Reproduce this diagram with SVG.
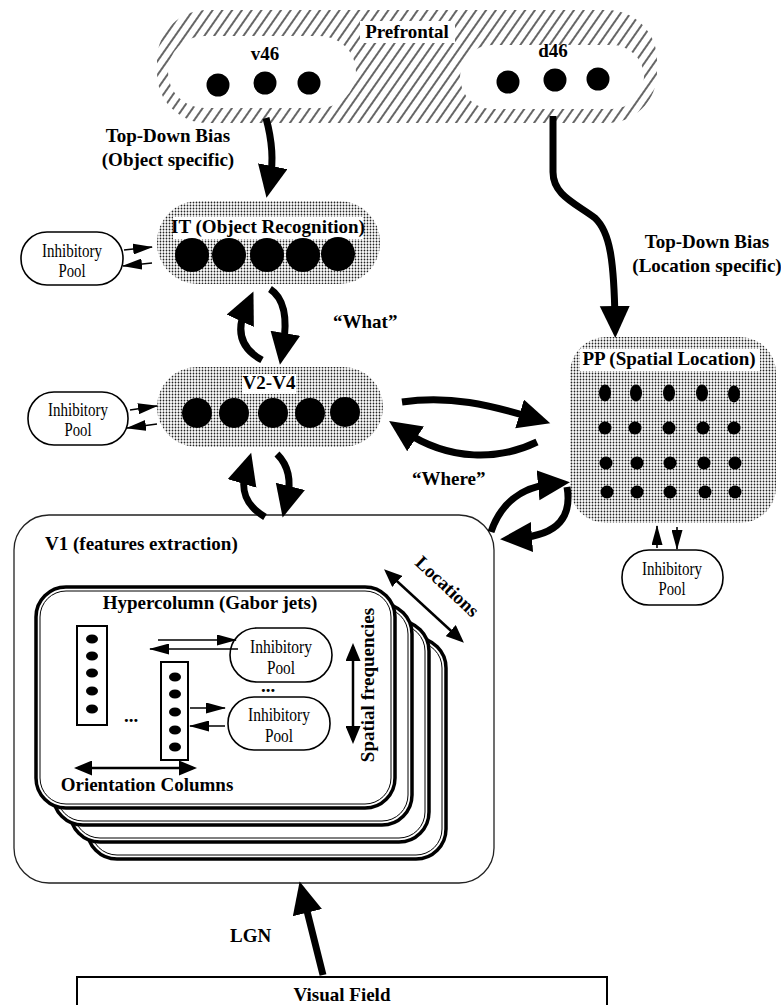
<svg xmlns="http://www.w3.org/2000/svg" width="781" height="1005" viewBox="0 0 781 1005">
<defs>
  <pattern id="stip" width="3" height="3" patternUnits="userSpaceOnUse">
    <rect width="3" height="3" fill="#fff"/>
    <circle cx="1.5" cy="1.5" r="0.9" fill="#222"/>
  </pattern>
  <pattern id="hatch" width="8" height="8" patternUnits="userSpaceOnUse" patternTransform="rotate(35)">
    <rect width="8" height="8" fill="#fff"/>
    <line x1="4" y1="0" x2="4" y2="8" stroke="#000" stroke-width="1.2"/>
  </pattern>
  <marker id="big" markerUnits="userSpaceOnUse" viewBox="0 0 34 32" markerWidth="34" markerHeight="32" refX="14" refY="15" orient="auto">
    <path d="M0,0 L32,15 L0,30 Z" fill="#000"/>
  </marker>
  <marker id="sm" markerUnits="userSpaceOnUse" viewBox="0 0 20 11" markerWidth="20" markerHeight="11" refX="19" refY="5.5" orient="auto">
    <path d="M0,0 L20,5.5 L0,11 Z" fill="#000"/>
  </marker>
  <marker id="md" markerUnits="userSpaceOnUse" viewBox="0 0 18 15" markerWidth="18" markerHeight="15" refX="14" refY="7.5" orient="auto-start-reverse">
    <path d="M0,0 L18,7.5 L0,15 Z" fill="#000"/>
  </marker>
</defs>
<style>
.lbl{font-family:"Liberation Serif","Times New Roman",serif;font-weight:bold;font-size:19px;fill:#000}
.pool{font-family:"Liberation Serif","Times New Roman",serif;font-size:19px;fill:#000}
.poolbox{fill:#fff;stroke:#000;stroke-width:1.6}
.stip{fill:url(#stip)}
.dot{fill:#000}
.thick{fill:none;stroke:#000;stroke-width:7;marker-end:url(#big)}
.thin{fill:none;stroke:#000;stroke-width:1.6;marker-end:url(#sm)}
.dbl{fill:none;stroke:#000;stroke-width:2.5;marker-start:url(#md);marker-end:url(#md)}
.card{fill:#fff;stroke:#000;stroke-width:3.5}
.cardin{fill:none;stroke:#000;stroke-width:1}
.col{fill:#fff;stroke:#000;stroke-width:2}
</style>

<g id="prefrontal">
  <rect x="157" y="10" width="500" height="113" rx="50" fill="url(#hatch)"/>
  <rect x="360" y="21" width="95" height="22" fill="#fff"/>
  <text class="lbl" x="407" y="38" text-anchor="middle">Prefrontal</text>
  <g id="v46">
    <rect x="168" y="36" width="188" height="72" rx="36" fill="#fff"/>
    <text class="lbl" x="265" y="60" text-anchor="middle">v46</text>
    <circle class="dot" cx="218" cy="85" r="11.5"/>
    <circle class="dot" cx="265" cy="83" r="11.5"/>
    <circle class="dot" cx="309" cy="83" r="11.5"/>
  </g>
  <g id="d46">
    <rect x="460" y="45" width="184" height="64" rx="32" fill="#fff"/>
    <text class="lbl" x="553" y="57" text-anchor="middle">d46</text>
    <circle class="dot" cx="508" cy="82" r="11.5"/>
    <circle class="dot" cx="555" cy="80" r="11.5"/>
    <circle class="dot" cx="598" cy="79" r="11.5"/>
  </g>
</g>

<g id="it">
  <rect class="stip" x="157" y="201" width="223" height="83" rx="41"/>
  <rect x="173" y="217" width="190" height="22" fill="#fff"/>
  <text class="lbl" x="268" y="233" text-anchor="middle">IT (Object Recognition)</text>
  <circle class="dot" cx="192" cy="255" r="17"/>
  <circle class="dot" cx="229" cy="255" r="17"/>
  <circle class="dot" cx="267" cy="255" r="17"/>
  <circle class="dot" cx="303" cy="255" r="17"/>
  <circle class="dot" cx="338" cy="254" r="17"/>
</g>

<g id="it-pool">
  <rect class="poolbox" x="21" y="232" width="102" height="53" rx="26"/>
  <text class="pool" x="72" y="257" text-anchor="middle" textLength="60" lengthAdjust="spacingAndGlyphs">Inhibitory</text>
  <text class="pool" x="72" y="277" text-anchor="middle" textLength="27" lengthAdjust="spacingAndGlyphs">Pool</text>
</g>

<g id="v2v4">
  <rect class="stip" x="157" y="367" width="226" height="80" rx="40"/>
  <rect x="242" y="374" width="54" height="20" fill="#fff"/>
  <text class="lbl" x="269" y="389" text-anchor="middle">V2-V4</text>
  <circle class="dot" cx="197" cy="413" r="15"/>
  <circle class="dot" cx="234" cy="413" r="15"/>
  <circle class="dot" cx="273" cy="413" r="15"/>
  <circle class="dot" cx="310" cy="413" r="15"/>
  <circle class="dot" cx="345" cy="412" r="15"/>
</g>

<g id="v2-pool">
  <rect class="poolbox" x="28" y="392" width="100" height="53" rx="26"/>
  <text class="pool" x="78" y="416" text-anchor="middle" textLength="60" lengthAdjust="spacingAndGlyphs">Inhibitory</text>
  <text class="pool" x="78" y="436" text-anchor="middle" textLength="27" lengthAdjust="spacingAndGlyphs">Pool</text>
</g>

<g id="pp">
  <rect class="stip" x="570" y="337" width="206" height="186" rx="36"/>
  <rect x="580" y="349" width="180" height="22" fill="#fff"/>
  <text class="lbl" x="669" y="365" text-anchor="middle">PP (Spatial Location)</text>
  <ellipse class="dot" cx="605" cy="393" rx="6" ry="8.5"/>
  <ellipse class="dot" cx="636" cy="393" rx="6" ry="8.5"/>
  <ellipse class="dot" cx="669" cy="393" rx="6" ry="8.5"/>
  <ellipse class="dot" cx="702" cy="393" rx="6" ry="8.5"/>
  <ellipse class="dot" cx="734" cy="394" rx="6" ry="8.5"/>
  <circle class="dot" cx="605" cy="428" r="6.5"/>
  <circle class="dot" cx="635" cy="428" r="6.5"/>
  <circle class="dot" cx="669" cy="428" r="6.5"/>
  <circle class="dot" cx="703" cy="428" r="6.5"/>
  <circle class="dot" cx="734" cy="428" r="6.5"/>
  <circle class="dot" cx="606" cy="463" r="6.5"/>
  <circle class="dot" cx="637" cy="463" r="6.5"/>
  <circle class="dot" cx="670" cy="463" r="6.5"/>
  <circle class="dot" cx="704" cy="463" r="6.5"/>
  <circle class="dot" cx="735" cy="463" r="6.5"/>
  <circle class="dot" cx="607" cy="492" r="6.5"/>
  <circle class="dot" cx="637" cy="492" r="6.5"/>
  <circle class="dot" cx="670" cy="492" r="6.5"/>
  <circle class="dot" cx="705" cy="492" r="6.5"/>
  <circle class="dot" cx="735" cy="492" r="6.5"/>
</g>

<g id="pp-pool">
  <rect class="poolbox" x="622" y="550" width="101" height="55" rx="27"/>
  <text class="pool" x="672" y="575" text-anchor="middle" textLength="60" lengthAdjust="spacingAndGlyphs">Inhibitory</text>
  <text class="pool" x="672" y="595" text-anchor="middle" textLength="27" lengthAdjust="spacingAndGlyphs">Pool</text>
</g>

<g id="v1">
  <rect x="14" y="515" width="480" height="368" rx="35" fill="#fff" stroke="#222" stroke-width="1.3"/>
  <text class="lbl" x="45" y="550">V1 (features extraction)</text>
</g>

<g id="hypercolumn">
  <rect class="card" x="87" y="638" width="359" height="221" rx="30"/>
  <rect class="cardin" x="91" y="642" width="351" height="213" rx="26"/>
  <rect class="card" x="70" y="621" width="359" height="221" rx="30"/>
  <rect class="cardin" x="74" y="625" width="351" height="213" rx="26"/>
  <rect class="card" x="53" y="604" width="359" height="221" rx="30"/>
  <rect class="cardin" x="57" y="608" width="351" height="213" rx="26"/>
  <rect class="card" x="36" y="587" width="359" height="221" rx="30"/>
  <rect class="cardin" x="40" y="591" width="351" height="213" rx="26"/>
  <text class="lbl" x="210" y="609" text-anchor="middle">Hypercolumn (Gabor jets)</text>
  <g id="col1">
    <rect class="col" x="77" y="626" width="30" height="99"/>
    <ellipse class="dot" cx="92" cy="639" rx="6" ry="4.5"/>
    <ellipse class="dot" cx="92" cy="656" rx="6" ry="4.5"/>
    <ellipse class="dot" cx="92" cy="673" rx="6" ry="4.5"/>
    <ellipse class="dot" cx="92" cy="691" rx="6" ry="4.5"/>
    <ellipse class="dot" cx="92" cy="709" rx="6" ry="4.5"/>
  </g>
  <text class="lbl" x="131" y="722" text-anchor="middle" font-size="14">...</text>
  <g id="col2">
    <rect class="col" x="161" y="662" width="27" height="98"/>
    <ellipse class="dot" cx="175" cy="677" rx="6" ry="4.5"/>
    <ellipse class="dot" cx="175" cy="694" rx="6" ry="4.5"/>
    <ellipse class="dot" cx="175" cy="712" rx="6" ry="4.5"/>
    <ellipse class="dot" cx="175" cy="730" rx="6" ry="4.5"/>
    <ellipse class="dot" cx="175" cy="747" rx="6" ry="4.5"/>
  </g>
  <g id="hc-pool1">
    <rect class="poolbox" x="230" y="628" width="102" height="54" rx="27"/>
    <text class="pool" x="281" y="653" text-anchor="middle" textLength="62" lengthAdjust="spacingAndGlyphs">Inhibitory</text>
    <text class="pool" x="281" y="674" text-anchor="middle" textLength="28" lengthAdjust="spacingAndGlyphs">Pool</text>
  </g>
  <text class="lbl" x="268" y="692" text-anchor="middle" font-size="13">...</text>
  <g id="hc-pool2">
    <rect class="poolbox" x="228" y="697" width="102" height="53" rx="26"/>
    <text class="pool" x="279" y="721" text-anchor="middle" textLength="62" lengthAdjust="spacingAndGlyphs">Inhibitory</text>
    <text class="pool" x="279" y="742" text-anchor="middle" textLength="28" lengthAdjust="spacingAndGlyphs">Pool</text>
  </g>
  <text class="lbl" x="147" y="791" text-anchor="middle">Orientation Columns</text>
  <text class="lbl" transform="translate(374,685) rotate(-90)" text-anchor="middle">Spatial frequencies</text>
</g>

<g id="visual-field">
  <rect x="77" y="977" width="530" height="40" fill="#fff" stroke="#000" stroke-width="2"/>
  <text class="lbl" x="342" y="1001" text-anchor="middle">Visual Field</text>
</g>

<g id="labels">
  <text class="lbl" x="168" y="142" text-anchor="middle">Top-Down Bias</text>
  <text class="lbl" x="168" y="166" text-anchor="middle">(Object specific)</text>
  <text class="lbl" x="707" y="248" text-anchor="middle">Top-Down Bias</text>
  <text class="lbl" x="707" y="272" text-anchor="middle">(Location specific)</text>
  <text class="lbl" x="333" y="328">“What”</text>
  <text class="lbl" x="412" y="485">“Where”</text>
  <text class="lbl" x="230" y="942">LGN</text>
  <text class="lbl" transform="translate(443,591) rotate(43)" text-anchor="middle">Locations</text>
</g>

<g id="connectors">
  <path class="thick" d="M266,118 C272,140 274,160 270,180"/>
  <path class="thick" d="M553,116 L553,172 C553,195 575,203 595,218 C610,232 614,260 615,320"/>
  <path class="thick" d="M262,360 C240,348 236,330 246,308"/>
  <path class="thick" d="M270,289 C284,298 288,318 283,347"/>
  <path class="thick" d="M265,517 C245,505 240,490 246,470"/>
  <path class="thick" d="M277,454 C288,465 292,480 287,500"/>
  <path class="thick" d="M402,402 C450,395 490,405 533,418"/>
  <path class="thick" d="M537,442 C500,460 450,462 404,431"/>
  <path class="thick" d="M491,532 C500,505 520,487 552,484"/>
  <path class="thick" d="M567,487 C572,515 560,535 518,538"/>
  <path class="thick" d="M323,975 L304,899"/>
  <path class="thin" d="M124,250 L152,247"/>
  <path class="thin" d="M152,263 L123,266"/>
  <path class="thin" d="M130,410 L157,406"/>
  <path class="thin" d="M157,424 L127,428"/>
  <path class="thin" d="M657,548 L657,526"/>
  <path class="thin" d="M677,527 L677,549"/>
  <path class="thin" d="M158,640 L236,640"/>
  <path class="thin" d="M238,649 L150,649"/>
  <path class="thin" d="M190,708 L225,708"/>
  <path class="thin" d="M225,726 L190,726"/>
  <path class="dbl" d="M78,768 L193,768"/>
  <path class="dbl" d="M353,647 L353,740"/>
  <path class="dbl" d="M387,572 L461,640"/>
</g>
</svg>
